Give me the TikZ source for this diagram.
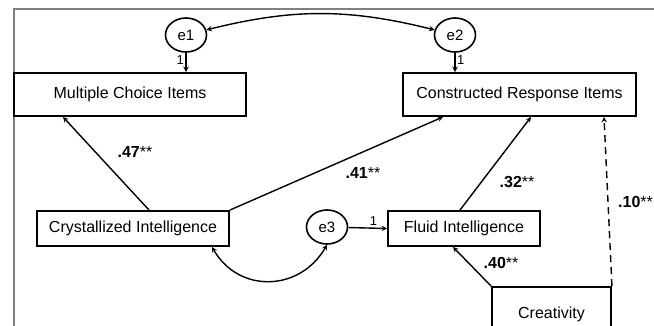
\documentclass[tikz,border=0pt]{standalone}
\usepackage{fontspec}
\setmainfont{Liberation Sans}
\usetikzlibrary{shapes.geometric, arrows}
\tikzstyle{observed} = [rectangle, draw=black, line width=1.9pt, text centered, inner sep=0pt, font=\fontsize{16}{19}\selectfont]
\tikzstyle{latent} = [ellipse, draw=black, line width=1.6pt, inner sep=0pt, minimum width=41pt, minimum height=34pt, font=\fontsize{15}{17}\selectfont]
\tikzstyle{arrow} = [line width=1.4pt,->,>=stealth]
\tikzstyle{covar} = [line width=1.4pt,<->,>=stealth]
\tikzstyle{coef} = [font=\fontsize{16}{19}\selectfont]
\tikzstyle{fixed} = [font=\fontsize{13}{15}\selectfont, inner sep=1.5pt]

\begin{document}
\begin{tikzpicture}[x=1pt, y=1pt]

\clip (0,0) rectangle (654,326);
\fill[white] (0,0) rectangle (654,326);
\draw[gray, line width=1.2pt] (14,-20) -- (14,317) -- (680,317);

% Nodes
\node (mc) [observed, minimum width=232pt, minimum height=43pt] at (130,231.5) {Multiple Choice Items};
\node (cr) [observed, minimum width=233pt, minimum height=43pt] at (519.5,231.5) {Constructed Response Items};
\node (e1) [latent] at (186,291) {e1};
\node (e2) [latent] at (455,291) {e2};
\node (cryst) [observed, minimum width=192pt, minimum height=35pt] at (133,97.5) {Crystallized Intelligence};
\node (fluid) [observed, minimum width=152pt, minimum height=35pt] at (464,97.5) {Fluid Intelligence};
\node (e3) [latent] at (327,99) {e3};
\node (creat) [observed, minimum width=119pt, minimum height=54pt] at (551.5,12) {Creativity};

% Arrows
\draw [arrow] (e1) -- node[fixed, left, pos=0.4] {1} (e1 |- mc.north);
\draw [arrow] (e2) -- node[fixed, right, pos=0.4] {1} (e2 |- cr.north);
\draw [covar] (e1) to[out=14, in=166, looseness=1] (e2);
\draw [arrow] ([xshift=16pt]cryst.north) -- ([xshift=-67pt]mc.south);
\draw [arrow] (cryst.north east) -- ([xshift=-76.5pt]cr.south);
\draw [arrow] ([xshift=-4pt]fluid.north) -- ([xshift=11.5pt]cr.south);
\draw [arrow] (creat.north west) -- ([xshift=-11pt]fluid.south);
\draw [arrow, dashed, dash pattern=on 7pt off 5pt] (creat.north east) -- ([xshift=84.5pt]cr.south);
\draw [arrow] (e3) -- node[fixed, above, pos=0.65] {1} (fluid.west);
\draw [covar] ([xshift=79pt]cryst.south) to[out=-60, in=-120, looseness=1.2] (e3.south);

% Coefficients
\node [coef] at (135,174) {\textbf{.47}**};
\node [coef] at (363,153) {\textbf{.41}**};
\node [coef] at (517,144) {\textbf{.32}**};
\node [coef] at (501,63) {\textbf{.40}**};
\node [coef, anchor=west, inner sep=0pt] at (618,124) {\textbf{.10}**};

\end{tikzpicture}
\end{document}
